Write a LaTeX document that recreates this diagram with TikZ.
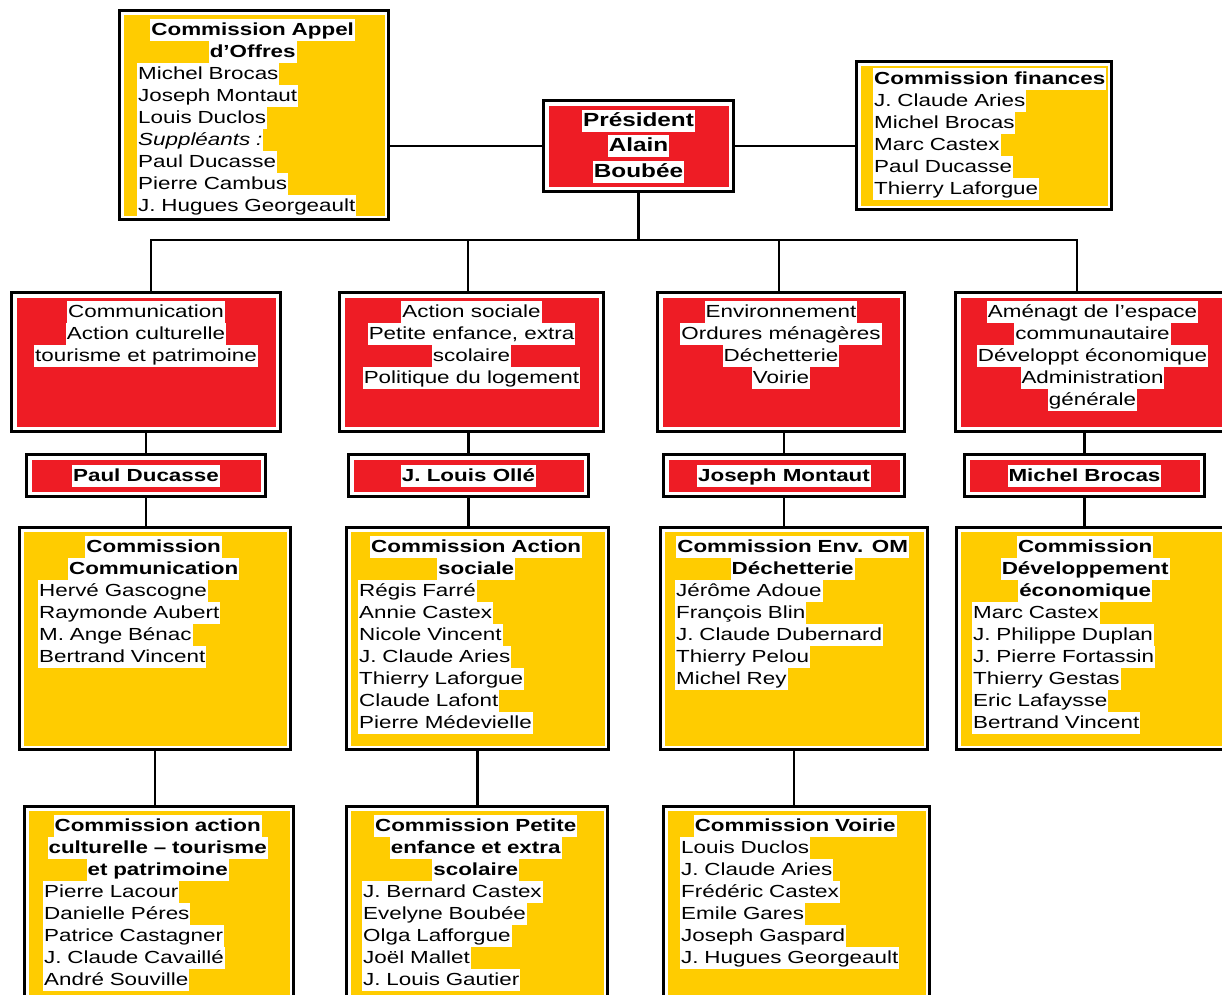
\documentclass[tikz,border=0pt]{standalone}
\usepackage{fontspec}
\setmainfont{Liberation Sans}[FakeStretch=1.28]
\usepackage{xcolor}
\definecolor{yellowfill}{HTML}{FFCC00}
\definecolor{redfill}{HTML}{EE1C25}
% white band behind each line of text
\newcommand{\wbg}[1]{{\setlength{\fboxsep}{0pt}\colorbox{white}{\rule[-5.5pt]{0pt}{22pt}\kern1pt#1\kern1pt}}}

\begin{document}
\begin{tikzpicture}[x=1pt,y=-1pt,
	every node/.style={font=\fontsize{17.5}{22}\selectfont},
	box/.style={draw, line width=3pt, fill=white, inner sep=0pt, anchor=north west},
	redbox/.style={box, path picture={\fill[redfill] ([shift={(5pt,-5pt)}]path picture bounding box.north west) rectangle ([shift={(-5pt,5pt)}]path picture bounding box.south east);}},
	yellowbox/.style={box, path picture={\fill[yellowfill] ([shift={(4pt,-4pt)}]path picture bounding box.north west) rectangle ([shift={(-4pt,4pt)}]path picture bounding box.south east);}},
	list/.style={anchor=north west, inner sep=0pt, align=left},
	redlist/.style={anchor=north, inner sep=0pt, align=center},
	link/.style={line width=2.5pt, line cap=rect}]
	\path[use as bounding box, fill=white] (0,0) rectangle (1222,994);
	
	% Top row
	\node[yellowbox, minimum width=269pt, minimum height=209pt] (appel) at (118,9) {};
	\node[redbox, minimum width=190pt, minimum height=91pt, align=center,
	font=\fontsize{19}{25.5}\selectfont\bfseries] (pres) at (542,99)
	{\wbg{Président}\\\wbg{Alain}\\\wbg{Boubée}};
	\node[yellowbox, minimum width=255pt, minimum height=148pt] (fin) at (855,60) {};
	
	\node[list, text width=231pt] (appel-t) at ([shift={(19pt,-9.5pt)}]appel.north west)
	{{\centering\bfseries\wbg{Commission Appel}\\\wbg{d’Offres}\par}
		\wbg{Michel Brocas}\\\wbg{Joseph Montaut}\\\wbg{Louis Duclos}\\
		\wbg{\itshape Suppléants :}\\\wbg{Paul Ducasse}\\\wbg{Pierre Cambus}\\
		\wbg{J. Hugues Georgeault}};
	\node[list, text width=219pt] (fin-t) at ([shift={(18pt,-7.5pt)}]fin.north west)
	{\wbg{\bfseries Commission finances}\\\wbg{J. Claude Aries}\\\wbg{Michel Brocas}\\
		\wbg{Marc Castex}\\\wbg{Paul Ducasse}\\\wbg{Thierry Laforgue}};
	
	% Delegations
	\node[redbox, minimum width=269pt, minimum height=139pt] (r1) at (10,291) {};
	\node[redbox, minimum width=264pt, minimum height=139pt] (r2) at (338,291) {};
	\node[redbox, minimum width=247pt, minimum height=139pt] (r3) at (656,291) {};
	\node[redbox, minimum width=274pt, minimum height=139pt] (r4) at (954,291) {};
	
	\node[redlist] (r1-t) at ([yshift=-10pt]r1.north)
	{\wbg{Communication}\\\wbg{Action culturelle}\\\wbg{tourisme et patrimoine}};
	\node[redlist] (r2-t) at ([yshift=-10pt]r2.north)
	{\wbg{Action sociale}\\\wbg{Petite enfance, extra}\\\wbg{scolaire}\\\wbg{Politique du logement}};
	\node[redlist] (r3-t) at ([yshift=-10pt]r3.north)
	{\wbg{Environnement}\\\wbg{Ordures ménagères}\\\wbg{Déchetterie}\\\wbg{Voirie}};
	\node[redlist] (r4-t) at ([yshift=-10pt]r4.north)
	{\wbg{Aménagt de l’espace}\\\wbg{communautaire}\\\wbg{Développt économique}\\
		\wbg{Administration}\\\wbg{générale}};
	
	% Vice-presidents
	\node[redbox, minimum width=239pt, minimum height=42pt, font=\fontsize{17.5}{22}\selectfont\bfseries] (n1) at (25,453) {\wbg{Paul Ducasse}};
	\node[redbox, minimum width=240pt, minimum height=42pt, font=\fontsize{17.5}{22}\selectfont\bfseries] (n2) at (347,453) {\wbg{J. Louis Ollé}};
	\node[redbox, minimum width=241pt, minimum height=42pt, font=\fontsize{17.5}{22}\selectfont\bfseries] (n3) at (662,453) {\wbg{Joseph Montaut}};
	\node[redbox, minimum width=240pt, minimum height=42pt, font=\fontsize{17.5}{22}\selectfont\bfseries] (n4) at (963,453) {\wbg{Michel Brocas}};
	
	% Commissions
	\node[yellowbox, minimum width=271pt, minimum height=222pt] (y1) at (18,526) {};
	\node[yellowbox, minimum width=262pt, minimum height=222pt] (y2) at (345,526) {};
	\node[yellowbox, minimum width=267pt, minimum height=222pt] (y3) at (659,526) {};
	\node[yellowbox, minimum width=273pt, minimum height=222pt] (y4) at (955,526) {};
	
	\node[list, text width=231pt] (y1-t) at ([shift={(20pt,-9.5pt)}]y1.north west)
	{{\centering\bfseries\wbg{Commission}\\\wbg{Communication}\par}
		\wbg{Hervé Gascogne}\\\wbg{Raymonde Aubert}\\\wbg{M. Ange Bénac}\\\wbg{Bertrand Vincent}};
	\node[list, text width=236pt] (y2-t) at ([shift={(13pt,-9.5pt)}]y2.north west)
	{{\centering\bfseries\wbg{Commission Action}\\\wbg{sociale}\par}
		\wbg{Régis Farré}\\\wbg{Annie Castex}\\\wbg{Nicole Vincent}\\\wbg{J. Claude Aries}\\
		\wbg{Thierry Laforgue}\\\wbg{Claude Lafont}\\\wbg{Pierre Médevielle}};
	\node[list, text width=235pt] (y3-t) at ([shift={(16pt,-9.5pt)}]y3.north west)
	{{\centering\bfseries\wbg{Commission Env. OM}\\\wbg{Déchetterie}\par}
		\wbg{Jérôme Adoue}\\\wbg{François Blin}\\\wbg{J. Claude Dubernard}\\
		\wbg{Thierry Pelou}\\\wbg{Michel Rey}};
	\node[list, text width=226pt] (y4-t) at ([shift={(17pt,-9.5pt)}]y4.north west)
	{{\centering\bfseries\wbg{Commission}\\\wbg{Développement}\\\wbg{économique}\par}
		\wbg{Marc Castex}\\\wbg{J. Philippe Duplan}\\\wbg{J. Pierre Fortassin}\\
		\wbg{Thierry Gestas}\\\wbg{Eric Lafaysse}\\\wbg{Bertrand Vincent}};
	
	% Sub-commissions
	\node[yellowbox, minimum width=269pt, minimum height=195pt] (z1) at (23,805) {};
	\node[yellowbox, minimum width=261pt, minimum height=195pt] (z2) at (345,805) {};
	\node[yellowbox, minimum width=266pt, minimum height=195pt] (z3) at (662,805) {};
	
	\node[list, text width=229pt] (z1-t) at ([shift={(20pt,-9.5pt)}]z1.north west)
	{{\centering\bfseries\wbg{Commission action}\\\wbg{culturelle – tourisme}\\\wbg{et patrimoine}\par}
		\wbg{Pierre Lacour}\\\wbg{Danielle Péres}\\\wbg{Patrice Castagner}\\
		\wbg{J. Claude Cavaillé}\\\wbg{André Souville}};
	\node[list, text width=227pt] (z2-t) at ([shift={(17pt,-9.5pt)}]z2.north west)
	{{\centering\bfseries\wbg{Commission Petite}\\\wbg{enfance et extra}\\\wbg{scolaire}\par}
		\wbg{J. Bernard Castex}\\\wbg{Evelyne Boubée}\\\wbg{Olga Lafforgue}\\
		\wbg{Joël Mallet}\\\wbg{J. Louis Gautier}};
	\node[list, text width=230pt] (z3-t) at ([shift={(18pt,-9.5pt)}]z3.north west)
	{{\centering\bfseries\wbg{Commission Voirie}\par}
		\wbg{Louis Duclos}\\\wbg{J. Claude Aries}\\\wbg{Frédéric Castex}\\
		\wbg{Emile Gares}\\\wbg{Joseph Gaspard}\\\wbg{J. Hugues Georgeault}};
	
	% Connectors
	\draw[link] (pres.west) -- (pres.west -| appel.east);
	\draw[link] (pres.east) -- (pres.east -| fin.west);
	\coordinate (bar) at (636,240);
	\draw[link] (pres.south) -- (pres.south |- bar);
	\foreach \i/\xb in {1/151, 2/468, 3/779, 4/1077} {
		\coordinate (b\i) at (\xb,240);
		\draw[link] (b\i) -- (b\i |- r\i.north);
	}
	\draw[link] (b1) -- (b4);
	\foreach \i in {1,...,4} {
		\draw[link] (n\i.north) -- (n\i.north |- r\i.south);
		\draw[link] (n\i.south) -- (n\i.south |- y\i.north);
	}
	\foreach \i in {1,2,3}
	\draw[link] (y\i.south) -- (y\i.south |- z\i.north);
\end{tikzpicture}
\end{document}
